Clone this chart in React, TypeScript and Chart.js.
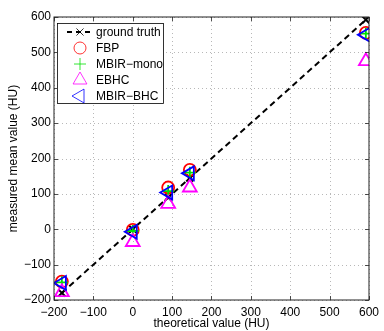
import React, { useEffect, useRef } from "react";
import { Chart, registerables } from "chart.js";
import { drawPoint } from "chart.js/helpers";

Chart.register(...registerables);

const theoretical = [-180, 0, 90, 145, 592];
const groundTruth = [-180, 0, 90, 145, 592];
const fbp = [-148, -2, 118, 168, 555];
const mbirMono = [-150, -5, 108, 160, 553];
const ebhc = [-178, -36, 72, 118, 475];
const mbirBhc = [-152, -7, 104, 158, 550];
const tickValues = [-200, -100, 0, 100, 200, 300, 400, 500, 600];

const FONT = "'Liberation Sans', Arial, sans-serif";

const fmt = (v: number) => (v < 0 ? "\u2212" + Math.abs(v) : String(v));

const dottedGrid = {
  id: "dottedGrid",
  beforeDatasetsDraw(chart: any) {
    const { ctx, chartArea: a, scales } = chart;
    ctx.save();
    ctx.strokeStyle = "#b8b8b8";
    ctx.lineWidth = 1;
    ctx.setLineDash([1, 3]);
    ctx.beginPath();
    tickValues.forEach((v) => {
      const x = Math.round(scales.x.getPixelForValue(v)) + 0.5;
      ctx.moveTo(x, a.top);
      ctx.lineTo(x, a.bottom);
      const y = Math.round(scales.y.getPixelForValue(v)) + 0.5;
      ctx.moveTo(a.left, y);
      ctx.lineTo(a.right, y);
    });
    ctx.stroke();
    ctx.restore();
  },
};

const boxTicks = {
  id: "boxTicks",
  afterDatasetsDraw(chart: any) {
    const { ctx, chartArea: a, scales } = chart;
    ctx.save();
    ctx.strokeStyle = "#222";
    ctx.lineWidth = 0.8;
    ctx.beginPath();
    const L = 4;
    tickValues.forEach((v) => {
      const x = Math.round(scales.x.getPixelForValue(v)) + 0.5;
      ctx.moveTo(x, a.bottom);
      ctx.lineTo(x, a.bottom - L);
      ctx.moveTo(x, a.top);
      ctx.lineTo(x, a.top + L);
      const y = Math.round(scales.y.getPixelForValue(v)) + 0.5;
      ctx.moveTo(a.left, y);
      ctx.lineTo(a.left + L, y);
      ctx.moveTo(a.right, y);
      ctx.lineTo(a.right - L, y);
    });
    ctx.stroke();
    ctx.lineWidth = 1;
    ctx.strokeRect(a.left, a.top, a.right - a.left, a.bottom - a.top);
    ctx.restore();
  },
};

const legendBox = {
  id: "legendBox",
  afterDraw(chart: any) {
    const { ctx, chartArea: a } = chart;
    const x0 = a.left + 3;
    const y0 = a.top + 6;
    const w = 106;
    const h = 80;
    ctx.save();
    ctx.fillStyle = "#fff";
    ctx.fillRect(x0, y0, w, h);
    ctx.strokeStyle = "#000";
    ctx.lineWidth = 0.8;
    ctx.strokeRect(x0 + 0.5, y0 + 0.5, w, h);
    const datasets = chart.data.datasets;
    const mx = x0 + 23;
    datasets.forEach((ds: any, i: number) => {
      const y = y0 + 9 + i * 16;
      if (ds.showLine) {
        ctx.save();
        ctx.strokeStyle = ds.borderColor;
        ctx.lineWidth = 2;
        ctx.setLineDash([5, 4]);
        ctx.beginPath();
        ctx.moveTo(mx - 13, y);
        ctx.lineTo(mx + 13, y);
        ctx.stroke();
        ctx.restore();
      }
      ctx.strokeStyle = ds.pointBorderColor;
      ctx.fillStyle = "rgba(0,0,0,0)";
      drawPoint(
        ctx,
        {
          pointStyle: ds.pointStyle,
          radius: ds.pointRadius,
          rotation: ds.pointRotation || 0,
          borderWidth: ds.pointBorderWidth,
        } as any,
        mx,
        y
      );
      ctx.fillStyle = "#000";
      ctx.font = `12px ${FONT}`;
      ctx.textBaseline = "middle";
      ctx.textAlign = "left";
      ctx.fillText(ds.label, x0 + 39, y + 1);
    });
    ctx.restore();
  },
};

function mk(label: string, ys: number[], color: string, style: string, radius: number, order: number, extra: any = {}) {
  return {
    label,
    data: theoretical.map((x, i) => ({ x, y: ys[i] })),
    showLine: false,
    borderColor: color,
    backgroundColor: "rgba(0,0,0,0)",
    pointBorderColor: color,
    pointBackgroundColor: "rgba(0,0,0,0)",
    pointStyle: style,
    pointRadius: radius,
    pointHoverRadius: radius,
    pointBorderWidth: 1.8,
    order,
    ...extra,
  };
}

export default function App() {
  const ref = useRef<HTMLCanvasElement>(null);
  useEffect(() => {
    document.body.style.margin = "0";
    const chart = new Chart(ref.current!, {
      type: "scatter",
      data: {
        datasets: [
          mk("ground truth", groundTruth, "#000000", "crossRot", 5, 5, {
            showLine: true,
            borderWidth: 2,
            borderDash: [6, 4],
            pointBorderWidth: 2,
          }),
          mk("FBP", fbp, "#ff0000", "circle", 6, 4),
          mk("MBIR\u2212mono", mbirMono, "#00e000", "cross", 6, 3),
          mk("EBHC", ebhc, "#ff00ff", "triangle", 8, 2),
          mk("MBIR\u2212BHC", mbirBhc, "#0000ff", "triangle", 8, 1, { pointRotation: -90 }),
        ] as any,
      },
      options: {
        animation: false,
        responsive: false,
        layout: { padding: { top: 17, right: 10, left: 2, bottom: 0 } },
        plugins: { legend: { display: false }, tooltip: { enabled: false } },
        scales: {
          x: {
            type: "linear",
            min: -200,
            max: 600,
            afterFit: (s: any) => {
              s.height = 31;
            },
            afterBuildTicks: (s: any) => {
              s.ticks = tickValues.map((v) => ({ value: v }));
            },
            ticks: {
              color: "#000",
              font: { family: FONT, size: 12 },
              padding: 5,
              maxRotation: 0,
              autoSkip: false,
              callback: (v: any) => fmt(Number(v)),
            },
            grid: { display: false, drawTicks: false },
            border: { display: false },
            title: {
              display: true,
              text: "theoretical value (HU)",
              color: "#000",
              font: { family: FONT, size: 12 },
              padding: { top: 0, bottom: 0 },
            },
          },
          y: {
            type: "linear",
            min: -200,
            max: 600,
            afterFit: (s: any) => {
              s.width = 52;
            },
            afterBuildTicks: (s: any) => {
              s.ticks = tickValues.map((v) => ({ value: v }));
            },
            ticks: {
              color: "#000",
              font: { family: FONT, size: 12 },
              padding: 3,
              autoSkip: false,
              callback: (v: any) => fmt(Number(v)),
            },
            grid: { display: false, drawTicks: false },
            border: { display: false },
            title: {
              display: true,
              text: "measured mean value (HU)",
              color: "#000",
              font: { family: FONT, size: 12 },
              padding: { top: 4, bottom: 0 },
            },
          },
        },
      },
      plugins: [dottedGrid, boxTicks, legendBox],
    } as any);
    return () => chart.destroy();
  }, []);
  return (
    <div style={{ position: "absolute", left: 0, top: 0, width: 384, height: 331, background: "#fff" }}>
      <canvas ref={ref} width={384} height={331} style={{ width: 384, height: 331 }} />
    </div>
  );
}
